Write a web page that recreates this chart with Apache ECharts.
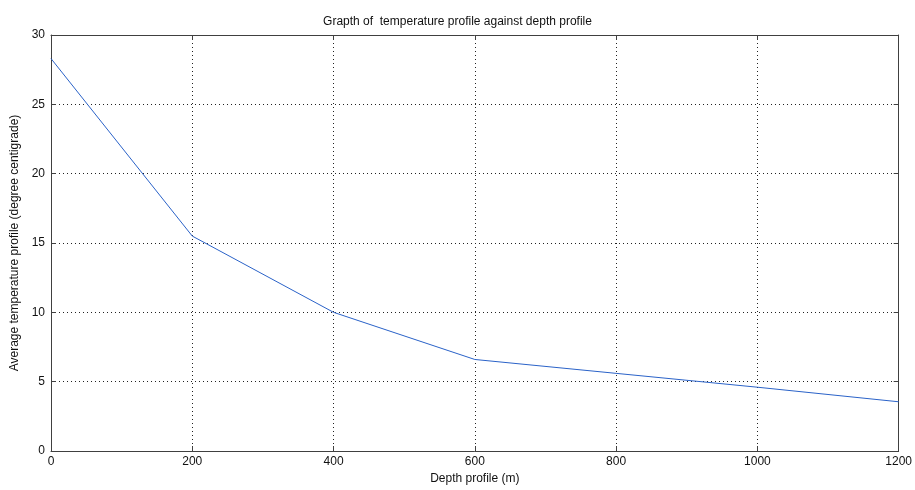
<!DOCTYPE html>
<html>
<head>
<meta charset="utf-8">
<script src="https://cdn.jsdelivr.net/npm/echarts@6/dist/echarts.min.js"></script>
<style>
  html, body { margin: 0; padding: 0; background: #fff; }
  #root { width: 915px; height: 490px; }
</style>
</head>
<body>
<div id="root"></div>
<script>
// depth (m) and average temperature
var depth = [0, 200, 400, 600, 800, 1000, 1200]
var temperature = [28.3, 15.5, 10.0, 6.6, 5.6, 4.6, 3.55]

var chart = echarts.init(document.getElementById('root'))
var font = 'Liberation Sans, Arial, sans-serif'
var axisCol = '#404040'

var gridDots = {
  show: true, showMinLine: false, showMaxLine: false,
  lineStyle: { color: '#222', type: [1, 3], width: 1 }
}

var option = {
  animation: false,
  title: {
    text: 'Grapth of  temperature profile against depth profile',
    left: 'center',
    top: 11,
    textStyle: { fontFamily: font, fontSize: 12, fontWeight: 'normal', color: '#111' }
  },
  grid: { left: 51, right: 14, top: 35, bottom: 39 },
  xAxis: [
    {
      type: 'value', min: 0, max: 1200, interval: 200,
      name: 'Depth profile (m)', nameLocation: 'middle', nameGap: 22,
      nameTextStyle: { fontFamily: font, fontSize: 12, color: '#111' },
      axisLine: { show: true, onZero: false, lineStyle: { color: axisCol, width: 1 } },
      axisTick: { show: true, inside: true, length: 5, lineStyle: { color: axisCol } },
      axisLabel: { fontFamily: font, fontSize: 12, color: '#111', margin: 5,
        formatter: function (v) { return String(v) } },
      splitLine: gridDots
    },
    {
      type: 'value', min: 0, max: 1200, interval: 200, position: 'top',
      axisLine: { show: true, onZero: false, lineStyle: { color: axisCol, width: 1 } },
      axisTick: { show: true, inside: true, length: 5, lineStyle: { color: axisCol } },
      axisLabel: { show: false },
      splitLine: { show: false }
    }
  ],
  yAxis: [
    {
      type: 'value', min: 0, max: 30, interval: 5,
      name: 'Average temperature profile (degree centigrade)', nameLocation: 'middle', nameGap: 25,
      nameTextStyle: { fontFamily: font, fontSize: 12, color: '#111' },
      axisLine: { show: true, onZero: false, lineStyle: { color: axisCol, width: 1 } },
      axisTick: { show: true, inside: true, length: 5, lineStyle: { color: axisCol } },
      axisLabel: { fontFamily: font, fontSize: 12, color: '#111', margin: 6 },
      splitLine: gridDots
    },
    {
      type: 'value', min: 0, max: 30, interval: 5, position: 'right',
      axisLine: { show: true, onZero: false, lineStyle: { color: axisCol, width: 1 } },
      axisTick: { show: true, inside: true, length: 5, lineStyle: { color: axisCol } },
      axisLabel: { show: false },
      splitLine: { show: false }
    }
  ],
  series: [
    {
      type: 'line',
      data: depth.map(function (d, i) { return [d, temperature[i]] }),
      showSymbol: false,
      lineStyle: { color: '#2a62c8', width: 1 },
      itemStyle: { color: '#2a62c8' }
    }
  ]
}

chart.setOption(option)
</script>
</body>
</html>
